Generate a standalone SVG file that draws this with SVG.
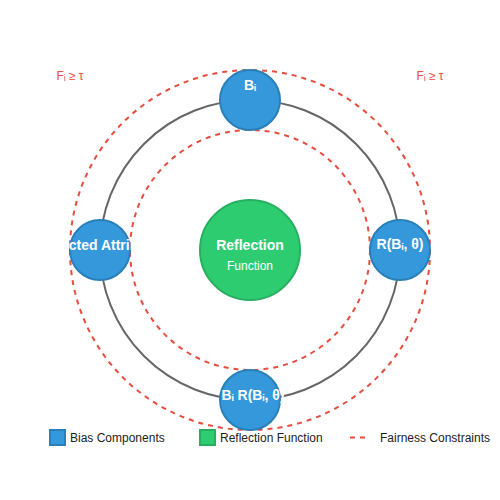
<svg xmlns="http://www.w3.org/2000/svg" width="500" height="500" viewBox="0 0 500 500">
<style>
.ring{fill:none;stroke:#e74c3c;stroke-width:2;stroke-dasharray:5,5}
.orbit{fill:none;stroke:#666;stroke-width:2}
.bias{fill:#3498db;stroke:#2980b9;stroke-width:2}
.refl{fill:#2ecc71;stroke:#27ae60;stroke-width:2}
.lbl{font-family:"Liberation Sans",Arial,sans-serif;font-size:14px;font-weight:bold;fill:#fff;text-anchor:middle}
.sub{font-family:"Liberation Sans",Arial,sans-serif;font-size:12px;fill:#fff;text-anchor:middle}
.con{font-family:"Liberation Sans",Arial,sans-serif;font-size:12px;fill:#e74c3c;text-anchor:middle}
.leg{font-family:"Liberation Sans",Arial,sans-serif;font-size:12px;fill:#222}
</style>
<rect width="500" height="500" fill="#fff"/>
<g id="connectors">
<circle class="ring" cx="250" cy="250" r="180"/>
<circle class="orbit" cx="250" cy="250" r="150"/>
<circle class="ring" cx="250" cy="250" r="120"/>
</g>
<text class="con" x="70" y="80">Fᵢ ≥ τ</text>
<text class="con" x="430" y="80">Fᵢ ≥ τ</text>
<g id="reflection">
<circle class="refl" cx="250" cy="250" r="50"/>
<text class="lbl" x="250" y="250">Reflection</text>
<text class="sub" x="250" y="270">Function</text>
</g>
<g id="bias-top">
<circle class="bias" cx="250" cy="100" r="30"/>
<text class="lbl" x="250" y="90">Bᵢ</text>
</g>
<g id="bias-left">
<circle class="bias" cx="100" cy="250" r="30"/>
<text class="lbl" x="100" y="250">Protected Attributes</text>
</g>
<g id="bias-right">
<circle class="bias" cx="400" cy="250" r="30"/>
<text class="lbl" x="400" y="249">R(Bᵢ, θ)</text>
</g>
<g id="bias-bottom">
<circle class="bias" cx="250" cy="400" r="30"/>
<text class="lbl" x="253" y="400">Bᵢ R(Bᵢ, θ)</text>
</g>
<g id="legend">
<rect class="bias" x="50" y="430" width="15" height="15" stroke-width="1"/>
<text class="leg" x="70" y="442">Bias Components</text>
<rect class="refl" x="200" y="430" width="15" height="15" stroke-width="1"/>
<text class="leg" x="220" y="442">Reflection Function</text>
<line x1="350" y1="437.5" x2="365" y2="437.5" stroke="#e74c3c" stroke-width="2" stroke-dasharray="5,5"/>
<text class="leg" x="380" y="442">Fairness Constraints</text>
</g>
</svg>
